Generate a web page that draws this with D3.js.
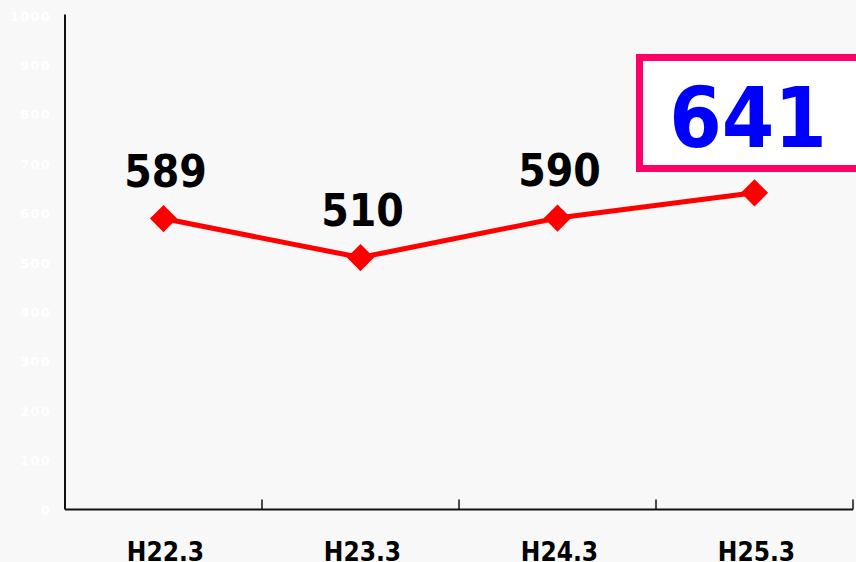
<!DOCTYPE html>
<html lang="ja">
<head>
  <meta charset="UTF-8">
  <title>Line Chart</title>
  <style>
    html, body { margin: 0; padding: 0; background: #f8f8f8; }
    svg { display: block; }
    .tick-y { fill: #ffffff; font: bold 13px "DejaVu Sans", sans-serif; letter-spacing: 1.2px; }
    .cat { font: bold 26px "DejaVu Sans Condensed", "DejaVu Sans", sans-serif; fill: #000; }
    .val { font: bold 44px "DejaVu Sans Condensed", "DejaVu Sans", sans-serif; fill: #000; }
  </style>
</head>
<body>
  <script src="https://d3js.org/d3.v7.min.js"></script>
  <script>
    const categories = ['H22.3', 'H23.3', 'H24.3', 'H25.3'];
    const values = [589, 510, 590, 641];
    const yTicks = [0, 100, 200, 300, 400, 500, 600, 700, 800, 900, 1000];
    const highlight = '641';

    const W = 856, H = 562;
    const margin = {top: 15.5, left: 65, right: 3, bottom: 52.5};

    const svg = d3.select('body').append('svg')
      .attr('width', W).attr('height', H);

    svg.append('rect').attr('width', W).attr('height', H).attr('fill', '#f8f8f8');

    const x = d3.scaleBand()
      .domain(categories)
      .range([margin.left, W - margin.right]);

    const y = d3.scaleLinear()
      .domain([0, 1000])
      .range([H - margin.bottom, margin.top]);

    // y tick labels (white, barely visible)
    svg.selectAll('.tick-y')
      .data(yTicks)
      .enter().append('text')
      .attr('class', 'tick-y')
      .attr('x', 51)
      .attr('y', d => y(d) + 5)
      .attr('text-anchor', 'end')
      .text(d => d);

    // axes
    svg.append('line')
      .attr('x1', margin.left).attr('x2', margin.left)
      .attr('y1', y(1000) - 1).attr('y2', y(0))
      .attr('stroke', '#111').attr('stroke-width', 2);

    svg.append('line')
      .attr('x1', margin.left).attr('x2', W - margin.right)
      .attr('y1', y(0)).attr('y2', y(0))
      .attr('stroke', '#111').attr('stroke-width', 2);

    // x ticks at band edges, pointing up
    svg.selectAll('.xtick')
      .data(categories)
      .enter().append('line')
      .attr('x1', d => x(d) + x.bandwidth())
      .attr('x2', d => x(d) + x.bandwidth())
      .attr('y1', y(0)).attr('y2', y(0) - 10)
      .attr('stroke', '#111').attr('stroke-width', 1.5);

    // category labels
    svg.selectAll('.cat')
      .data(categories)
      .enter().append('text')
      .attr('class', 'cat')
      .attr('x', d => x(d) + x.bandwidth() / 2 + 2)
      .attr('y', 561)
      .attr('text-anchor', 'middle')
      .text(d => d);

    const cx = (d, i) => x(categories[i]) + x.bandwidth() / 2;

    // line
    const line = d3.line()
      .x((d, i) => cx(d, i))
      .y(d => y(d));

    svg.append('path')
      .datum(values)
      .attr('d', line)
      .attr('fill', 'none')
      .attr('stroke', '#ff0000')
      .attr('stroke-width', 5);

    // diamond markers
    svg.selectAll('.mk')
      .data(values)
      .enter().append('path')
      .attr('d', d3.symbol().type(d3.symbolSquare).size(370))
      .attr('transform', (d, i) => `translate(${cx(d, i)},${y(d)}) rotate(45)`)
      .attr('fill', '#ff0000');

    // value labels (last one is shown in the box)
    svg.selectAll('.val')
      .data(values.slice(0, 3))
      .enter().append('text')
      .attr('class', 'val')
      .attr('x', (d, i) => cx(d, i) + 2)
      .attr('y', d => y(d) - 32)
      .attr('text-anchor', 'middle')
      .text(d => d);

    // highlight box
    svg.append('rect')
      .attr('x', 639.5).attr('y', 57.5)
      .attr('width', 240).attr('height', 111)
      .attr('fill', '#ffffff')
      .attr('stroke', '#ff0066')
      .attr('stroke-width', 7);

    svg.append('text')
      .attr('x', 748).attr('y', 147)
      .attr('text-anchor', 'middle')
      .attr('fill', '#0000ff')
      .style('font', 'bold 84px "DejaVu Sans Condensed", "DejaVu Sans", sans-serif')
      .text(highlight);
  </script>
</body>
</html>
